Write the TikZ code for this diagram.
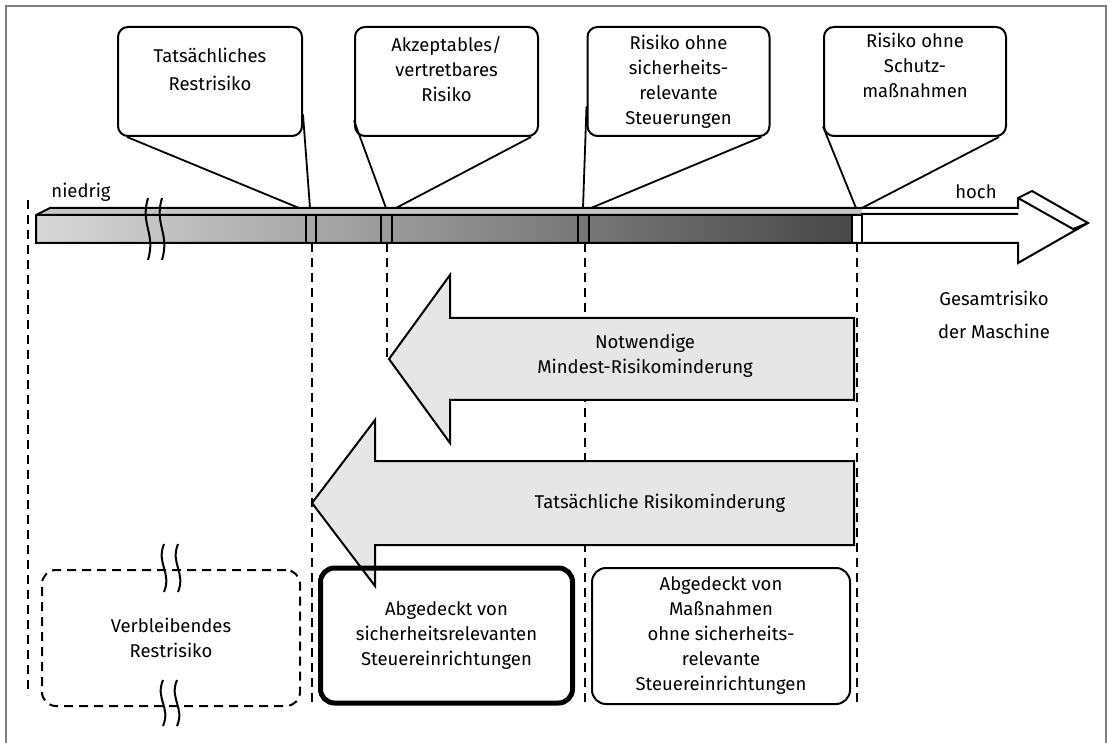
\documentclass[tikz,border=0pt]{standalone}
\usepackage{fontspec}
\setmainfont{Fira Sans}
\usepackage{tikz}

\definecolor{barlight}{RGB}{216,216,216}
\definecolor{bardark}{RGB}{72,72,72}
\definecolor{arrowgray}{RGB}{230,230,230}
\definecolor{framegray}{RGB}{128,128,128}

\tikzset{
  callout/.style = {draw, line width = 2pt, rounded corners = 10pt, align = center,
    minimum height = 109pt, inner sep = 0pt},
  pointer/.style = {line width = 1.8pt},
  guide/.style = {line width = 1.8pt, dash pattern = on 9pt off 6pt},
  bigarrow/.style = {draw, line width = 2pt, fill = arrowgray, line join = miter},
  coverbox/.style = {draw, line width = 2pt, rounded corners = 14pt, align = center,
    minimum width = 258pt, minimum height = 136pt},
  breakline/.style = {line width = 2pt}
}

\begin{document}
\begin{tikzpicture}[x = 1pt, y = -1pt, font = \fontsize{18.5}{25}\selectfont]
  \useasboundingbox (0, 0) rectangle (1112, 743);
  \draw[framegray, line width = 1.8pt] (6, 743) -- (6, 6) -- (1106, 6) -- (1106, 743);

  % guides
  \draw[guide] (28, 200) -- (28, 695);
  \draw[guide] (312, 243) -- (312, 704);
  \draw[guide] (387, 243) -- (387, 362);
  \draw[guide] (585, 243) -- (585, 704);
  \draw[guide] (857, 243) -- (857, 704);

  % Gesamtrisiko axis
  \fill[gray!45] (36, 215) -- (50, 208) -- (862, 208) -- (862, 215) -- cycle;
  \shade[left color = barlight, right color = bardark] (36, 215) rectangle (852, 243);
  \fill[white] (852, 215) rectangle (862, 243);
  \draw[line width = 2pt, line join = miter]
  (36, 215) -- (50, 208) -- (1018, 208) -- (1018, 198) -- (1032, 191) -- (1088, 223)
  -- (1018, 263) -- (1018, 243) -- (36, 243) -- cycle
  (36, 215) -- (862, 215) -- (862, 214) -- (1018, 214)
  (1018, 198) -- (1073, 229) -- (1088, 223);
  \foreach \a/\b in {306/316, 381/392, 578/589, 852/862}
    \draw[line width = 2pt] (\a, 215) -- (\a, 243) (\b, 215) -- (\b, 243);

  \coordinate (p1l) at (299, 208);
  \coordinate (p1r) at (310, 208);
  \coordinate (p2l) at (386, 208);
  \coordinate (p2r) at (396, 208);
  \coordinate (p3l) at (583, 208);
  \coordinate (p3r) at (591, 208);
  \coordinate (p4l) at (856, 208);
  \coordinate (p4r) at (862, 208);

  \node (low) at (81, 192) {niedrig};
  \node (high) at (976, 192) {hoch};
  \node[align = center, font = \fontsize{18.5}{33}\selectfont] (total) at (994, 315)
  {Gesamtrisiko\\der Maschine};

  % callouts
  \node[callout, minimum width = 184pt, text depth = 25pt] (tats) at (210, 81.5)
  {Tatsächliches\\[3pt]Restrisiko};
  \node[callout, minimum width = 183pt, text depth = 25pt] (akz) at (446.5, 81.5)
  {Akzeptables/\\vertretbares\\Risiko};
  \node[callout, minimum width = 182pt] (ohneS) at (678.5, 81.5)
  {Risiko ohne\\sicherheits-\\relevante\\Steuerungen};
  \node[callout, minimum width = 182pt, text depth = 32pt] (ohneM) at (915, 81.5)
  {Risiko ohne\\Schutz-\\maßnahmen};

  \draw[pointer]
  ([xshift = 10pt]tats.south west) -- (p1l)
  ([yshift = -33pt]tats.east) -- (p1r)
  ([yshift = -39pt]akz.west) -- (p2l)
  ([xshift = -8pt]akz.south east) -- (p2r)
  ([yshift = -25pt]ohneS.west) -- (p3l)
  ([xshift = -9pt]ohneS.south east) -- (p3r)
  ([yshift = -45pt]ohneM.west) -- (p4l)
  ([xshift = -8pt]ohneM.south east) -- (p4r);

  % Risikominderung
  \draw[bigarrow] (854, 318) -- (450, 318) -- (450, 275) -- (389, 359)
  -- (450, 443) -- (450, 400) -- (854, 400) -- cycle;
  \node[align = center] (need) at (645, 356) {Notwendige\\Mindest-Risikominderung};
  \draw[bigarrow] (854, 461) -- (375, 461) -- (375, 420) -- (312, 503)
  -- (375, 586) -- (375, 545) -- (854, 545) -- cycle;
  \node (real) at (660, 503) {Tatsächliche Risikominderung};

  % Abdeckung
  \node[coverbox, dash pattern = on 9pt off 6pt] (rest) at (171, 638)
  {Verbleibendes\\Restrisiko};
  \node[coverbox, line width = 5pt, minimum width = 252pt, minimum height = 135pt]
  (sre) at (446.5, 635.5)
  {Abgedeckt von\\sicherheitsrelevanten\\Steuereinrichtungen};
  \node[coverbox] (mass) at (721, 636)
  {Abgedeckt von\\Maßnahmen\\ohne sicherheits-\\relevante\\Steuereinrichtungen};

  % Unterbrechungen
  \foreach \x/\y/\h in {148/229/31, 164/568/24, 163/703/23}
    \foreach \d in {0, 14}
      \draw[breakline] (\x+\d, \y-\h) .. controls (\x+\d-8, \y-4) and (\x+\d+8, \y+4)
      .. (\x+\d, \y+\h);
\end{tikzpicture}
\end{document}
